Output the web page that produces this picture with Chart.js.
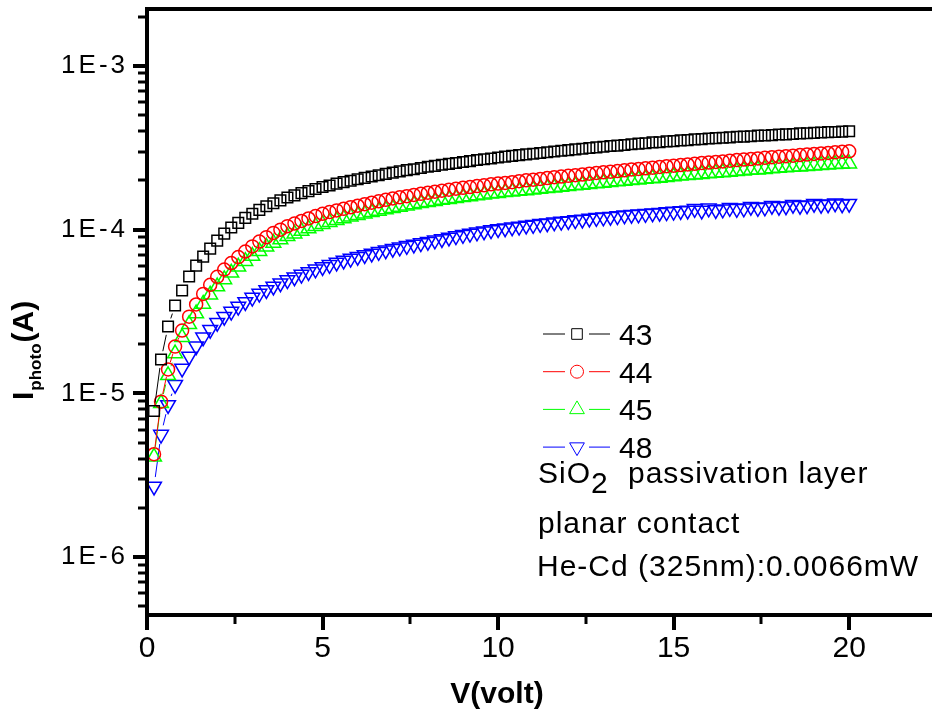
<!DOCTYPE html>
<html>
<head>
<meta charset="utf-8">
<title>Photocurrent vs bias</title>
<script src="https://cdn.jsdelivr.net/npm/chart.js@4.4.1/dist/chart.umd.min.js"></script>
<style>
  html, body { margin: 0; padding: 0; background: #fff; }
  #wrap { position: relative; width: 932px; height: 716px; }
</style>
</head>
<body>
<div id="wrap"><canvas id="ivChart"></canvas></div>
<script>
/* bias sweep (V) */
const voltage = [
  0.2, 0.4, 0.6, 0.8, 1.0, 1.2, 1.4, 1.6, 1.8, 2.0,
  2.2, 2.4, 2.6, 2.8, 3.0, 3.2, 3.4, 3.6, 3.8, 4.0,
  4.2, 4.4, 4.6, 4.8, 5.0, 5.2, 5.4, 5.6, 5.8, 6.0,
  6.2, 6.4, 6.6, 6.8, 7.0, 7.2, 7.4, 7.6, 7.8, 8.0,
  8.2, 8.4, 8.6, 8.8, 9.0, 9.2, 9.4, 9.6, 9.8, 10.0,
  10.2, 10.4, 10.6, 10.8, 11.0, 11.2, 11.4, 11.6, 11.8, 12.0,
  12.2, 12.4, 12.6, 12.8, 13.0, 13.2, 13.4, 13.6, 13.8, 14.0,
  14.2, 14.4, 14.6, 14.8, 15.0, 15.2, 15.4, 15.6, 15.8, 16.0,
  16.2, 16.4, 16.6, 16.8, 17.0, 17.2, 17.4, 17.6, 17.8, 18.0,
  18.2, 18.4, 18.6, 18.8, 19.0, 19.2, 19.4, 19.6, 19.8, 20.0
];

/* photocurrent per sample, in µA */
const i43 = [
  7.8, 16.1, 25.6, 34.4, 42.5, 51.7, 60.3, 68.4, 76.6, 85.7,
  94.5, 103, 110, 118, 125, 132, 139, 145, 151, 157,
  162, 167, 172, 177, 182, 186, 191, 195, 199, 203,
  207, 211, 215, 219, 223, 227, 231, 234, 238, 242,
  245, 249, 252, 255, 259, 262, 266, 269, 272, 276,
  279, 282, 285, 288, 291, 294, 297, 300, 303, 306,
  309, 312, 315, 318, 321, 324, 326, 329, 332, 335,
  337, 341, 342, 346, 347, 351, 352, 356, 357, 360,
  362, 364, 366, 369, 370, 372, 375, 376, 378, 381,
  382, 384, 387, 388, 390, 392, 394, 395, 397, 399
];
const i44 = [
  4.25, 8.9, 14.0, 19.3, 24.2, 29.4, 34.9, 40.5, 46.0, 51.5,
  57.0, 62.5, 68.0, 73.5, 79.0, 84.5, 90.0, 95.5, 100, 105,
  109, 113, 117, 121, 125, 128, 131, 134, 137, 140,
  143, 146, 149, 152, 155, 157.5, 160, 163, 165.5, 168,
  170.5, 173, 175.5, 178, 180, 182, 184.5, 186.5, 189, 191,
  193, 195, 197.5, 200, 202, 204, 206.5, 209, 211, 213,
  215, 217, 219.5, 222, 224, 226, 228, 230.5, 233, 235,
  237, 239, 241.5, 244, 246, 248, 250, 252.5, 255, 257,
  259, 261, 263.5, 266, 268, 270, 272, 274.5, 277, 279,
  281, 283, 285.5, 288, 290, 292, 294, 296.5, 299, 301
];
const i45 = [
  4.1, 8.7, 12.9, 17.5, 22.0, 26.4, 30.7, 35.2, 40.0, 44.9,
  49.6, 54.5, 59.3, 64.2, 69.0, 73.8, 78.5, 83.0, 87.0, 91.0,
  94.5, 98.0, 101.5, 105, 108, 111, 114, 117, 120, 122.5,
  125, 127.5, 130, 132.5, 135, 137.5, 140, 142.5, 145, 147,
  149, 151.5, 153.5, 155.5, 157.5, 159.5, 161.5, 163.5, 165.5, 167,
  169, 170.5, 172, 173.5, 175, 177, 179, 180.5, 182, 184,
  186, 187.5, 189, 191, 193, 195, 196.5, 198, 200, 202,
  204, 205.5, 207, 209, 211, 213, 214.5, 216, 218, 220,
  222, 223.5, 225, 227, 229, 231, 232.5, 234, 236, 238,
  239.5, 241, 242.5, 244, 246, 247.5, 249, 250.5, 252, 253
];
const i48 = [
  2.7, 5.6, 8.5, 11.3, 14.2, 16.8, 19.4, 22.0, 24.5, 27.0,
  29.4, 31.6, 33.9, 36.2, 38.5, 40.7, 42.8, 45.0, 47.1, 49.2,
  51.2, 53.2, 55.2, 57.2, 59.2, 61.0, 63.0, 64.8, 66.6, 68.4,
  70.0, 71.6, 73.2, 74.9, 76.5, 78.0, 79.6, 81.2, 82.8, 84.4,
  86.0, 87.8, 89.6, 91.4, 93.0, 94.7, 96.3, 97.9, 99.4, 101,
  102, 103.5, 104.5, 106, 107, 108.5, 109.5, 111, 112, 113,
  114.5, 115.5, 117, 118, 119, 120, 121, 122.5, 123.5, 124,
  125, 126, 127, 128, 129, 130, 131, 134, 131, 135,
  132, 133, 136, 134, 135, 138, 136, 137, 140, 138,
  139, 142, 140, 141, 144, 142, 143, 145, 143, 144
];

const seriesNames = ['43', '44', '45', '48'];
const seriesData = [i43, i44, i45, i48];
const seriesColors = ['#000000', '#ff0000', '#00ff00', '#0000ff'];

const xTickValues = [0, 5, 10, 15, 20];
const xMinorTicks = [2.5, 7.5, 12.5, 17.5];
const yTickValues = [1e-6, 1e-5, 1e-4, 1e-3];
const yTickLabels = ['1E-6', '1E-5', '1E-4', '1E-3'];
const noteLines = ['planar contact', 'He-Cd (325nm):0.0066mW'];

const FONT = "'Liberation Sans', Arial, sans-serif";
const MARKERS = [
  { style: 'rect', radius: 7.5, rotation: 0 },
  { style: 'circle', radius: 6.5, rotation: 0 },
  { style: 'triangle', radius: 8.5, rotation: 0 },
  { style: 'triangle', radius: 8.5, rotation: 180 }
];

// Origin-style connectors: the line stops short of each hollow marker
function gapped(r) {
  return ctx => {
    const len = Math.hypot(ctx.p1.x - ctx.p0.x, ctx.p1.y - ctx.p0.y);
    if (len <= 2 * r) return [0, 10000];
    return [0, r, len - 2 * r, r];
  };
}

const datasets = seriesData.map((vals, i) => ({
  label: seriesNames[i],
  data: voltage.map((v, k) => ({ x: v, y: vals[k] * 1e-6 })),
  borderColor: seriesColors[i],
  borderWidth: 1,
  backgroundColor: 'transparent',
  pointStyle: MARKERS[i].style,
  pointRadius: MARKERS[i].radius,
  pointRotation: MARKERS[i].rotation,
  pointBorderColor: seriesColors[i],
  pointBorderWidth: 1.5,
  pointBackgroundColor: 'rgba(0,0,0,0)',
  tension: 0,
  segment: { borderDash: gapped(MARKERS[i].radius + 1) }
}));

/* axes frame, log ticks, legend and text blocks */
const frame = {
  id: 'frame',
  afterDraw(chart) {
    const { ctx, chartArea: a, scales: { x, y } } = chart;
    ctx.save();
    ctx.strokeStyle = '#000';
    ctx.fillStyle = '#000';

    ctx.lineWidth = 4;
    ctx.beginPath();
    ctx.moveTo(a.left, a.bottom + 2);
    ctx.lineTo(a.left, a.top);
    ctx.lineTo(a.right, a.top);
    ctx.moveTo(a.left, a.bottom);
    ctx.lineTo(a.right, a.bottom);
    ctx.stroke();

    // y ticks: decades long, 2..9 short
    const yMin = y.min, yMax = y.max;
    for (let d = Math.floor(Math.log10(yMin)); d <= Math.ceil(Math.log10(yMax)); d++) {
      for (let m = 1; m <= 9; m++) {
        const v = m * Math.pow(10, d);
        if (v < yMin || v > yMax) continue;
        const py = Math.round(y.getPixelForValue(v));
        ctx.lineWidth = m === 1 ? 4 : 3;
        ctx.beginPath();
        ctx.moveTo(a.left - (m === 1 ? 14 : 9), py);
        ctx.lineTo(a.left, py);
        ctx.stroke();
      }
    }

    // x ticks
    xTickValues.concat(xMinorTicks).forEach(v => {
      const px = Math.round(x.getPixelForValue(v));
      const major = xTickValues.includes(v);
      ctx.lineWidth = major ? 4 : 3;
      ctx.beginPath();
      ctx.moveTo(px, a.bottom);
      ctx.lineTo(px, a.bottom + (major ? 15 : 9));
      ctx.stroke();
    });

    // y tick labels
    ctx.font = '26px ' + FONT;
    ctx.letterSpacing = '3px';
    ctx.textAlign = 'right';
    ctx.textBaseline = 'middle';
    yTickValues.forEach((v, i) => {
      ctx.fillText(yTickLabels[i], a.left - 19, y.getPixelForValue(v));
    });
    ctx.letterSpacing = '0px';

    // axis titles
    ctx.textAlign = 'center';
    ctx.textBaseline = 'alphabetic';
    ctx.font = 'bold 30px ' + FONT;
    ctx.fillText('V(volt)', 497, 703);

    ctx.save();
    ctx.translate(33, 400);
    ctx.rotate(-Math.PI / 2);
    ctx.textAlign = 'left';
    ctx.font = 'bold 30px ' + FONT;
    ctx.fillText('I', 0, 0);
    let off = ctx.measureText('I').width + 1;
    ctx.font = 'bold 17px ' + FONT;
    ctx.fillText('photo', off, 8);
    off += ctx.measureText('photo').width + 1;
    ctx.font = 'bold 30px ' + FONT;
    ctx.fillText('(A)', off, 0);
    ctx.restore();

    // legend: line - marker - line, then name
    ctx.textAlign = 'left';
    ctx.font = '30px ' + FONT;
    seriesNames.forEach((name, i) => {
      const ly = 334 + i * 37.7;
      ctx.strokeStyle = seriesColors[i];
      ctx.lineWidth = 1;
      ctx.beginPath();
      ctx.moveTo(543, ly); ctx.lineTo(565, ly);
      ctx.moveTo(589, ly); ctx.lineTo(610, ly);
      ctx.stroke();
      ctx.fillStyle = 'rgba(0,0,0,0)';
      Chart.helpers.drawPoint(ctx, {
        pointStyle: MARKERS[i].style,
        radius: MARKERS[i].radius,
        rotation: MARKERS[i].rotation,
        borderWidth: 1.5
      }, 577, ly);
      ctx.fillStyle = '#000';
      ctx.fillText(name, 619, ly + 11);
    });

    // sample notes
    ctx.letterSpacing = '1px';
    ctx.fillText('SiO', 538, 483);
    const w = ctx.measureText('SiO').width;
    ctx.fillText('2', 538 + w, 493);
    ctx.fillText('passivation layer', 628, 483);
    ctx.fillText(noteLines[0], 538, 533);
    ctx.fillText(noteLines[1], 537, 576);
    ctx.restore();
  }
};

new Chart(document.getElementById('ivChart'), {
  type: 'line',
  data: { datasets },
  options: {
    responsive: true,
    maintainAspectRatio: false,
    animation: false,
    devicePixelRatio: 1,
    layout: { autoPadding: false, padding: { top: 9, right: 0, bottom: 0, left: 0 } },
    plugins: { legend: { display: false }, tooltip: { enabled: false } },
    scales: {
      x: {
        type: 'linear',
        min: 0,
        max: 22.36,
        afterFit: s => { s.height = 101; s.paddingLeft = 0; s.paddingRight = 0; },
        afterBuildTicks: s => { s.ticks = xTickValues.map(v => ({ value: v })); },
        grid: { display: false, drawTicks: false },
        border: { display: false },
        ticks: { padding: 16, color: '#000', maxRotation: 0, autoSkip: false, font: { family: FONT, size: 30 } }
      },
      y: {
        type: 'logarithmic',
        min: 4.43e-7,
        max: 2.226e-3,
        afterFit: s => { s.width = 147; },
        grid: { display: false, drawTicks: false },
        border: { display: false },
        ticks: { display: false }
      }
    }
  },
  plugins: [frame]
});
</script>
</body>
</html>
